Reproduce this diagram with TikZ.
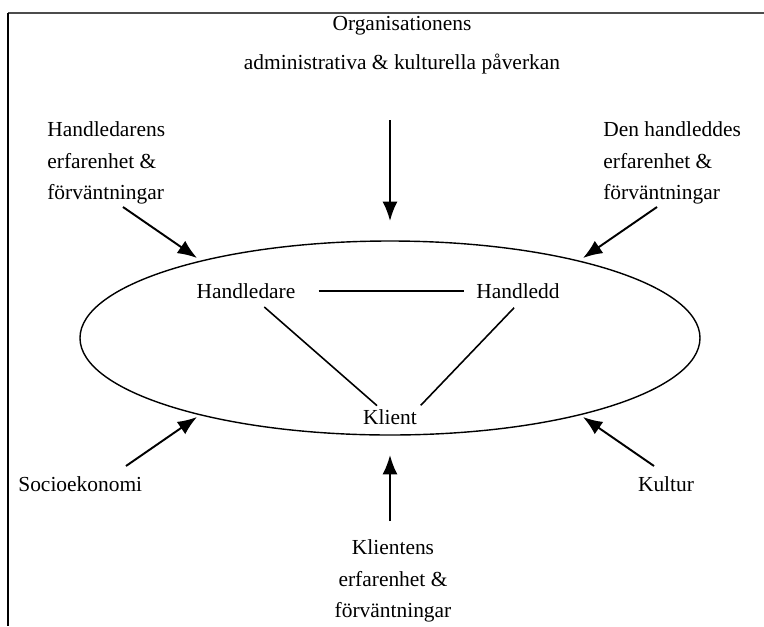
\documentclass[tikz,border=0pt]{standalone}
\usepackage{fontspec}
\setmainfont{Liberation Serif}
\usetikzlibrary{arrows.meta, math}

\tikzset{
  pil/.style={-{Latex[length=11pt,width=8.5pt]}, line width=1.1pt},
  txt/.style={inner sep=0pt, font=\fontsize{12.2}{18.1}\selectfont},
  linje/.style={line width=0.9pt},
}

\begin{document}
\begin{tikzpicture}[x=0.02cm, y=-0.02cm]
\tikzmath{
\xc=390; \yc=338;
\ea=310; \eb=97;
}
\useasboundingbox (0,0) rectangle (764,626);

% ram
\draw[line width=1.1pt, black!70] (8,13) -- (764,13);
\draw[line width=1.1pt] (8,13) -- (8,626);

\draw[line width=0.8pt] (\xc,\yc) ellipse ({\ea} and {\eb});

% texter
\node[txt, align=center] (org) at (402,45) {Organisationens\\[4pt]administrativa \& kulturella påverkan};
\node[txt, align=left, anchor=west] (hlr-erf) at (47,163) {Handledarens\\erfarenhet \&\\förväntningar};
\node[txt, align=left, anchor=west] (hdd-erf) at (603,163) {Den handleddes\\erfarenhet \&\\förväntningar};
\node[txt, anchor=west] (soc) at (18,484) {Socioekonomi};
\node[txt] (kult) at (666,484) {Kultur};
\node[txt, align=center] (kl-erf) at (393,581) {Klientens\\erfarenhet \&\\förväntningar};

\node[txt] (hdr) at (246,291) {Handledare};
\node[txt] (hdd) at (518,291) {Handledd};
\node[txt] (kl) at (390,417) {Klient};

\draw[linje, shorten <=13pt, shorten >=7pt] (hdr) -- (hdd);
\draw[linje, shorten <=7pt, shorten >=3pt] (hdr) -- (kl);
\draw[linje, shorten <=7pt, shorten >=3pt] (hdd.-60) -- (kl.north east);

% pilar
\coordinate (top-s) at (390,120); \coordinate (top-e) at (390,221);
\coordinate (tl-s) at (123,207);  \coordinate (tl-e) at (197,258);
\coordinate (tr-s) at (657,207);  \coordinate (tr-e) at (583,258);
\coordinate (bl-s) at (126,466);  \coordinate (bl-e) at (197,417);
\coordinate (br-s) at (654,466);  \coordinate (br-e) at (583,417);
\coordinate (bot-s) at (390,521); \coordinate (bot-e) at (390,455);

\foreach \p in {top, tl, tr, bl, br, bot}
  \draw[pil] (\p-s) -- (\p-e);

\end{tikzpicture}
\end{document}
